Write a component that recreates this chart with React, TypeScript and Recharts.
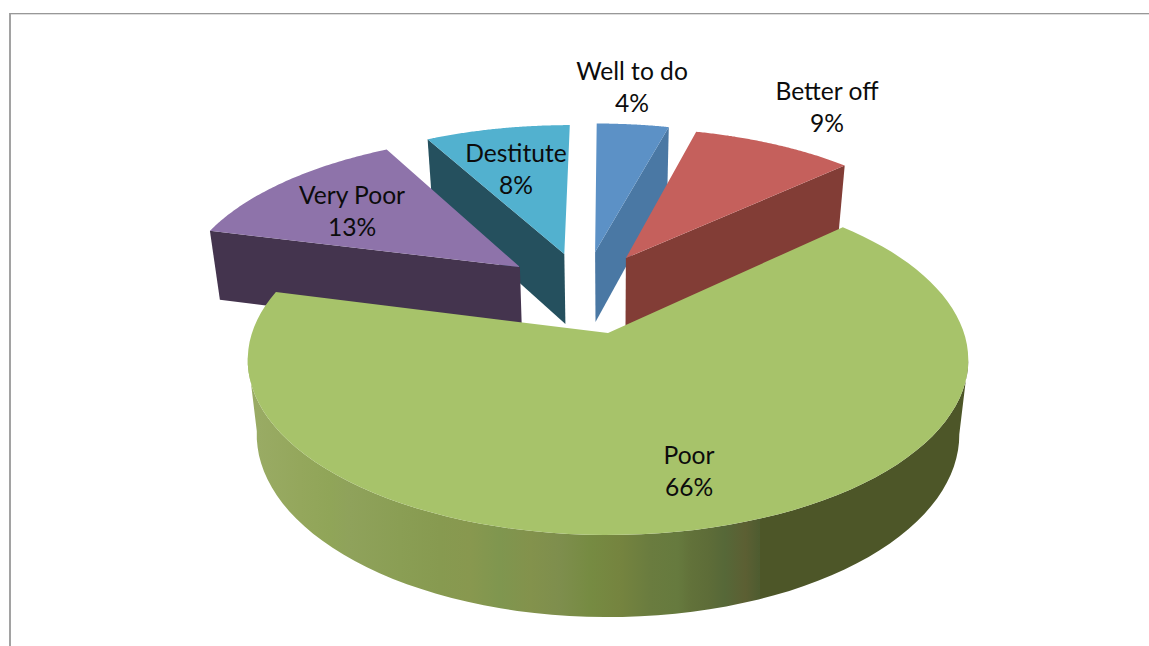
import { PieChart, Pie } from 'recharts'

// slices in clockwise order, starting from the one at the far left
const categories = ['Very Poor', 'Destitute', 'Well to do', 'Better off', 'Poor']
const shares = [13, 8, 4, 9, 66]

const faceColors = ['#8e73aa', '#52b1cf', '#5c91c6', '#c5605c', '#a7c36a']
const wallColors = ['#44344e', '#25505e', '#4a78a4', '#823d36', 'url(#poorWall)']

// how far each slice is pulled out, in units of the pie radius
const explodeX = [-0.263, -0.132, -0.039, 0.054, 0]
const explodeY = [0.41, 0.497, 0.511, 0.47, 0]

const labelX = [352, 516, 632, 827, 689]
const labelY = [195, 153, 71, 91, 455]

// slices painted first sit behind the others
const backLayer = ['Destitute', 'Well to do', 'Better off']

// shading of the long outer wall, left to right, with its faint vertical bands
const wallStops: [number, string][] = [
  [0, '#99ab64'],
  [0.06, '#94a75c'],
  [0.103, '#90a558'],
  [0.131, '#8fa25b'],
  [0.203, '#8a9e54'],
  [0.26, '#879a50'],
  [0.303, '#88984f'],
  [0.346, '#7f964f'],
  [0.389, '#83924c'],
  [0.431, '#7e8e4d'],
  [0.474, '#768b42'],
  [0.517, '#75843f'],
  [0.56, '#6a7c3f'],
  [0.6, '#667a3e'],
  [0.617, '#62723a'],
  [0.646, '#5d6c38'],
  [0.667, '#566838'],
  [0.696, '#5c5f33'],
  [0.717, '#4e5c30'],
  [0.7171, '#4d5628'],
  [1, '#4d5628'],
]

const data = categories.map((name, i) => ({ name, value: shares[i] }))

const TILT = 0.48
const PERSPECTIVE = 0.154
const THICKNESS = 69
const BOTTOM_SCALE = 0.975
const THICKNESS_GROWTH = 0.043
const RAD = Math.PI / 180

type Pt = [number, number]

function project(cx: number, cy: number, r: number, x: number, y: number): Pt {
  const w = 1 + PERSPECTIVE * y
  return [cx + (r * x) / w, cy - (r * TILT * y) / w]
}

// the same point on the underside of the disc
function drop([x, y]: Pt, cx: number): Pt {
  return [cx + BOTTOM_SCALE * (x - cx), y + THICKNESS + THICKNESS_GROWTH * (y - 231)]
}

const toPath = (pts: Pt[]) => 'M' + pts.map(p => p[0].toFixed(1) + ' ' + p[1].toFixed(1)).join('L') + 'Z'

function Slice(props: any) {
  const { cx, cy, outerRadius, startAngle, endAngle, name } = props
  const i = categories.indexOf(name)

  const rim: Pt[] = []
  const steps = 96
  for (let s = 0; s <= steps; s++) {
    const a = (startAngle + ((endAngle - startAngle) * s) / steps) * RAD
    rim.push(project(cx, cy, outerRadius, explodeX[i] + Math.cos(a), explodeY[i] + Math.sin(a)))
  }
  const apex = project(cx, cy, outerRadius, explodeX[i], explodeY[i])
  const outline = [apex, ...rim]

  // the outline runs clockwise, so an edge heading left faces the viewer;
  // nearly upright cut edges are seen edge-on and get no wall
  let walls = ''
  outline.forEach((p, k) => {
    const next = outline[(k + 1) % outline.length]
    const isCut = k === 0 || k === outline.length - 1
    if (next[0] - p[0] < (isCut ? -20 : 0)) walls += toPath([p, next, drop(next, cx), drop(p, cx)])
  })

  return (
    <g>
      <path d={walls} fill={wallColors[i]} />
      <path d={toPath(outline)} fill={faceColors[i]} />
    </g>
  )
}

function SliceLabel(props: any) {
  const i = categories.indexOf(props.name)
  return (
    <text x={labelX[i]} y={labelY[i]} textAnchor="middle" fill="#0c0c0c" fontFamily="Lato" fontSize={24.6}>
      <tspan x={labelX[i]} dy={9}>{props.name}</tspan>
      <tspan x={labelX[i]} dy={32}>{props.value}%</tspan>
    </text>
  )
}

export default function App() {
  const pieProps = {
    data,
    dataKey: 'value',
    nameKey: 'name',
    cx: 608,
    cy: 333,
    outerRadius: 356,
    startAngle: 165.6,
    endAngle: -194.4,
    stroke: 'none',
    isAnimationActive: false,
    legendType: 'none' as const,
    labelLine: false,
  }

  return (
    <div style={{ position: 'fixed', left: 0, top: 0, width: 1149, height: 646, overflow: 'hidden', background: '#fff' }}>
      <div
        style={{
          position: 'absolute',
          left: 9,
          top: 13,
          right: -4,
          bottom: -4,
          borderLeft: '2px solid #a2a2a2',
          borderTop: '1px solid #989898',
          boxShadow: 'inset 0 1px 0 #dedede',
        }}
      />
      <div style={{ position: 'absolute', left: 0, top: 0 }}>
        <PieChart width={1149} height={646} margin={{ top: 0, right: 0, bottom: 0, left: 0 }}>
          <defs>
            <linearGradient id="poorWall" gradientUnits="userSpaceOnUse" x1={258} y1={0} x2={958} y2={0}>
              {wallStops.map(([at, color]) => (
                <stop key={at} offset={at} stopColor={color} />
              ))}
            </linearGradient>
          </defs>
          <Pie {...pieProps} shape={(p: any) => (backLayer.includes(p.name) ? <Slice {...p} /> : <g />)} />
          <Pie
            {...pieProps}
            shape={(p: any) => (backLayer.includes(p.name) ? <g /> : <Slice {...p} />)}
            label={SliceLabel}
          />
        </PieChart>
      </div>
    </div>
  )
}
